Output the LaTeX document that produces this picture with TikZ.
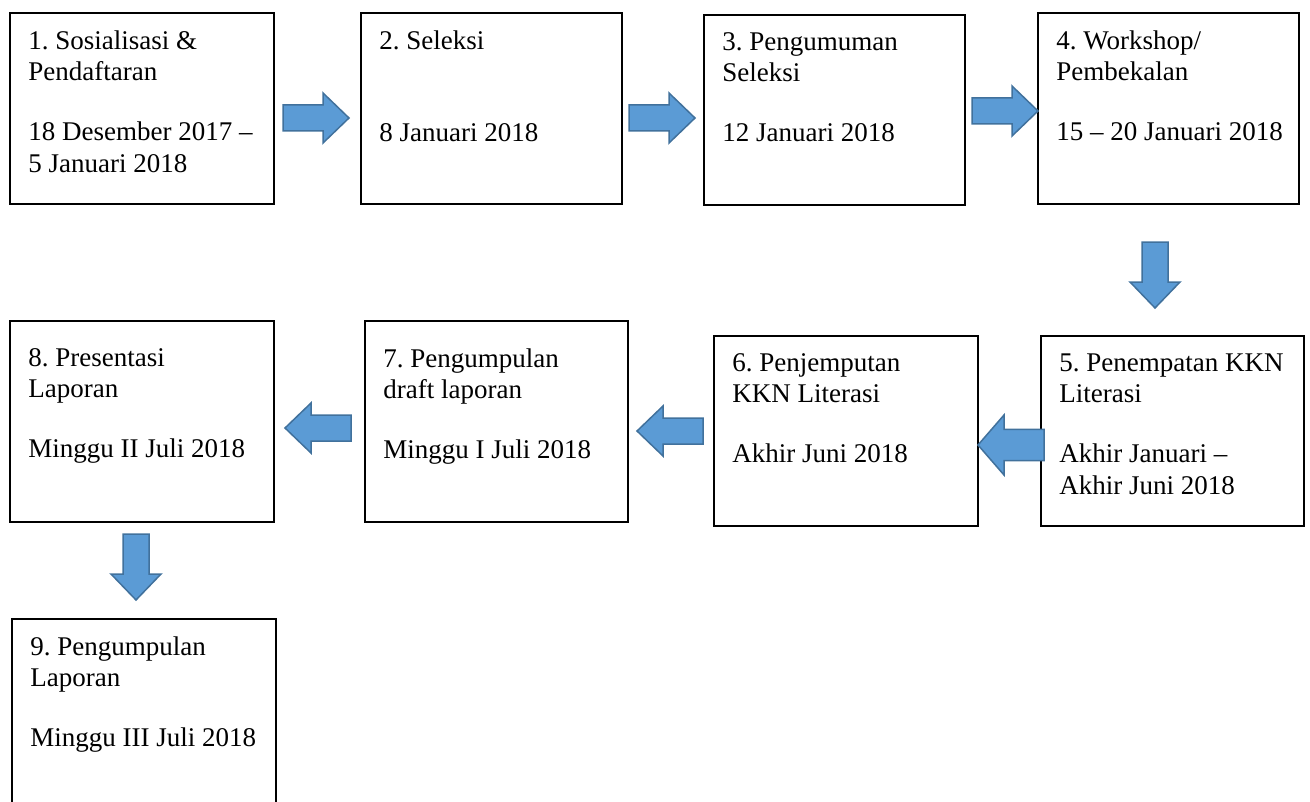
\documentclass[tikz,border=0pt]{standalone}
\usepackage{fontspec}
\setmainfont{Liberation Serif}
\usetikzlibrary{positioning}

\definecolor{arrowblue}{HTML}{5B9BD5}
\definecolor{arrowedge}{HTML}{41719C}

\tikzset{
  stage/.style={draw=black, line width=1pt, anchor=north west, inner sep=0pt},
  stagetext/.style={inner sep=0pt, align=left,
                    font=\fontsize{13.5}{15.75}\selectfont\frenchspacing},
  arrowbody/.style={fill=arrowblue, draw=arrowedge, line width=0.75pt},
  pics/blockarrow/.style={code={
    \path[arrowbody] (0,-13) -- (40,-13) -- (40,-25) -- (66,0)
                     -- (40,25) -- (40,13) -- (0,13) -- cycle;}}
}

\begin{document}
\begin{tikzpicture}[x=0.5pt,y=-0.5pt]
    \clip (0,0) rectangle (1310,802);
    % boxes, top row
    \node[stage, minimum width=132pt, minimum height=95.5pt] (s1) at (9,12) {};
    \node[stage, minimum width=130.5pt, minimum height=95.5pt] (s2) at (360,12) {};
    \node[stage, minimum width=130.5pt, minimum height=95pt] (s3) at (703,14) {};
    \node[stage, minimum width=130.5pt, minimum height=95.5pt] (s4) at (1037,12) {};
    % boxes, second row
    \node[stage, minimum width=131.5pt, minimum height=95pt] (s5) at (1040,335) {};
    \node[stage, minimum width=132pt, minimum height=95pt] (s6) at (713,335) {};
    \node[stage, minimum width=131.5pt, minimum height=100.5pt] (s7) at (364,320) {};
    \node[stage, minimum width=132pt, minimum height=100.5pt] (s8) at (9,320) {};
    % last box, cut off at the bottom
    \node[stage, minimum width=132pt, minimum height=120pt] (s9) at (11,618) {};

    \node[stagetext, below right=9pt and 9.5pt of s1.north west] (t1)
      {1. Sosialisasi \&\\ Pendaftaran\\[14.25pt] 18 Desember 2017 \textendash\\ 5 Januari 2018};
    \node[stagetext, below right=9pt and 9.5pt of s2.north west] (t2)
      {2. Seleksi\\[30.25pt] 8 Januari 2018};
    \node[stagetext, below right=9pt and 9.5pt of s3.north west] (t3)
      {3. Pengumuman\\ Seleksi\\[14.25pt] 12 Januari 2018};
    \node[stagetext, below right=9pt and 9.5pt of s4.north west] (t4)
      {4. Workshop/\\ Pembekalan\\[14.25pt] 15 \textendash{} 20 Januari 2018};
    \node[stagetext, below right=9pt and 9.5pt of s5.north west] (t5)
      {5. Penempatan KKN\\ Literasi\\[14.25pt] Akhir Januari \textendash\\ Akhir Juni 2018};
    \node[stagetext, below right=9pt and 9.5pt of s6.north west] (t6)
      {6. Penjemputan\\ KKN Literasi\\[14.25pt] Akhir Juni 2018};
    \node[stagetext, below right=14pt and 9.5pt of s7.north west] (t7)
      {7. Pengumpulan\\ draft laporan\\[14.25pt] Minggu I Juli 2018};
    \node[stagetext, below right=14pt and 9.5pt of s8.north west] (t8)
      {8. Presentasi\\ Laporan\\[14.25pt] Minggu II Juli 2018};
    \node[stagetext, below right=9pt and 9.5pt of s9.north west] (t9)
      {9. Pengumpulan\\ Laporan\\[14.25pt] Minggu III Juli 2018};

    % block arrows
    \pic (a12) at (283,118) {blockarrow};
    \pic (a23) at (629,118) {blockarrow};
    \pic (a34) at (972,111) {blockarrow};
    \pic[rotate=-90] (a45) at (1155,242) {blockarrow};
    \pic[rotate=180, yscale=1.2] (a56) at (1044,445) {blockarrow};
    \pic[rotate=180] (a67) at (703,431) {blockarrow};
    \pic[rotate=180] (a78) at (351,428) {blockarrow};
    \pic[rotate=-90] (a89) at (136,534) {blockarrow};
\end{tikzpicture}
\end{document}
